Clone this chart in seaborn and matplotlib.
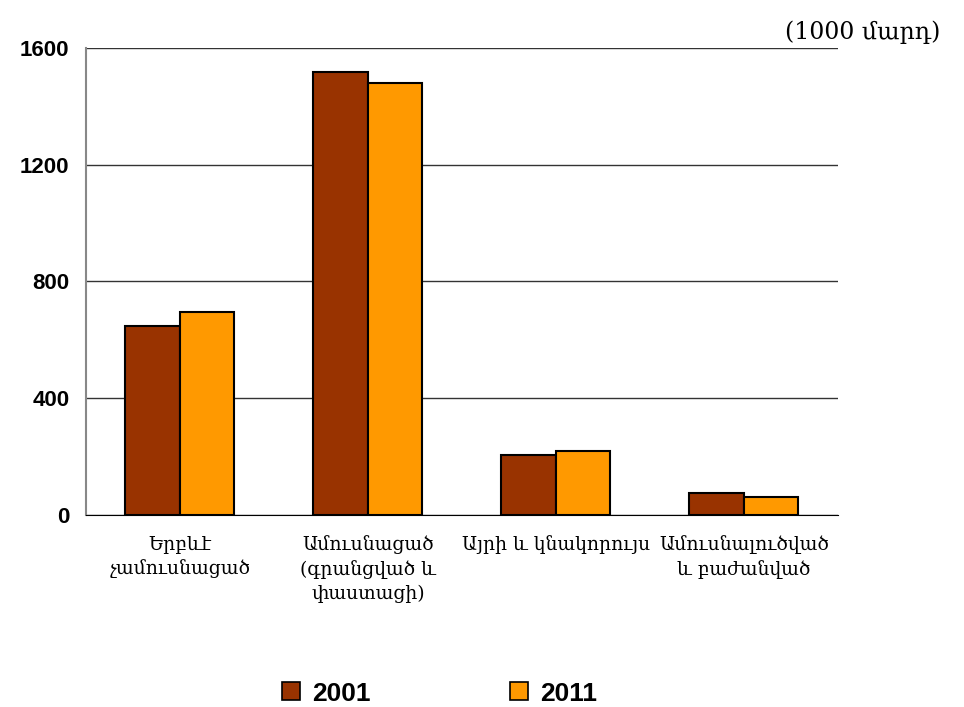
import pandas as pd
import matplotlib
matplotlib.use("Agg")
import matplotlib.pyplot as plt
import seaborn as sns
from matplotlib.lines import Line2D

# data
categories = ["Երբևէ\nչամուսնացած", "Ամուսնացած\n(գրանցված և\nփաստացի)",
              "Այրի և կնակորույս", "Ամուսնալուծված\nև բաժանված"]
years = ["2001", "2011"]
values_2001 = [647, 1518, 205, 75]
values_2011 = [695, 1480, 219, 62]
colors = ["#993300", "#FF9900"]

df = pd.DataFrame({
    "category": categories * 2,
    "year": [years[0]] * 4 + [years[1]] * 4,
    "value": values_2001 + values_2011,
})

sns.set_style("white")
plt.rcParams['font.family'] = ['Liberation Sans', 'DejaVu Sans']
plt.rcParams['text.color'] = 'black'

fig = plt.figure(figsize=(9.64, 7.07), dpi=100)
ax = fig.add_axes([0.0892, 0.2716, 0.78, 0.6605])

sns.barplot(data=df, x="category", y="value", hue="year", palette=colors,
            saturation=1, width=0.58, gap=0, edgecolor="black", linewidth=1.5,
            ax=ax, legend=False)

ax.set_ylim(0, 1600)
ax.set_xlim(-0.5, 3.5)
ax.set_yticks([0, 400, 800, 1200, 1600])
ax.yaxis.grid(True, color="#333333", linewidth=1)
ax.set_axisbelow(True)
ax.set_xlabel("")
ax.set_ylabel("")

for s in ["top", "right"]:
    ax.spines[s].set_visible(False)
ax.spines["left"].set_color("#888888")
ax.spines["left"].set_linewidth(1.5)
ax.spines["bottom"].set_color("black")

# y ticks
ax.tick_params(axis="y", direction="out", length=6, width=1.2, color="#888888",
               labelsize=16, labelcolor="black", pad=6)
for lab in ax.get_yticklabels():
    lab.set_fontweight("bold")

# x ticks at category boundaries, labels at centers
ax.set_xticks([-0.5, 0.5, 1.5, 2.5, 3.5])
ax.set_xticklabels([])
ax.tick_params(axis="x", direction="out", length=6, width=1.5, color="#888888")
for i, c in enumerate(categories):
    ax.text(i, -70, c, ha="center", va="top", fontsize=13.5, color="black",
            family=["DejaVu Serif", "DejaVu Sans"], linespacing=1.4)

fig.text(0.975, 0.955, "(1000 մարդ)", ha="right", va="center", fontsize=17,
         color="black", family=["DejaVu Serif", "DejaVu Sans"])

handles = [Line2D([], [], marker="s", linestyle="", markersize=13,
                  markerfacecolor=c, markeredgecolor="black", markeredgewidth=1.2)
           for c in colors]
fig.legend(handles, years, loc="center", bbox_to_anchor=(0.455, 0.019),
           ncol=2, frameon=False, columnspacing=5.2, handlelength=0.8,
           handletextpad=0.4, prop={"size": 19, "weight": "bold"})

fig.savefig("out.png", dpi=100)
